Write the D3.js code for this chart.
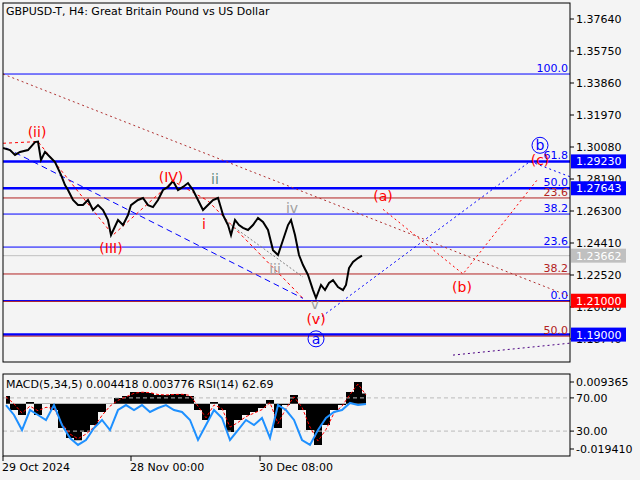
<!DOCTYPE html>
<html><head><meta charset="utf-8">
<script src="https://cdn.jsdelivr.net/npm/d3@7"></script>
<style>body{margin:0;background:#f4f4f4}text{font-family:"DejaVu Sans",sans-serif}</style>
</head><body><svg width="640" height="480"></svg>
<script>
// price path (bar number, close)
const bars = [0,7,12,17,25,32,35,38,42,48,52,58,62,65,70,75,80,85,90,95,100,105,108,115,120,125,128,135,140,145,150,155,160,165,170,175,180,185,190,195,200,205,210,215,218,220,225,228,232,236,240,245,250,255,260,265,270,275,280,285,288,292,296,300,305,310,313,318,322,326,330,335,340,343,346,350,355,359];
const closes = [1.3002,1.2990,1.2961,1.2979,1.2990,1.3037,1.3040,1.2931,1.2979,1.2943,1.2919,1.2843,1.2783,1.2754,1.2695,1.2665,1.2665,1.2695,1.2636,1.2665,1.2636,1.2577,1.2488,1.2577,1.2547,1.2606,1.2665,1.2695,1.2707,1.2665,1.2653,1.2695,1.2754,1.2772,1.2807,1.2754,1.2772,1.2795,1.2754,1.2695,1.2636,1.2665,1.2695,1.2707,1.2648,1.2606,1.2547,1.2488,1.2577,1.2547,1.2530,1.2518,1.2547,1.2589,1.2565,1.2518,1.2399,1.2370,1.2459,1.2547,1.2577,1.2488,1.2370,1.2311,1.2252,1.2163,1.2116,1.2193,1.2163,1.2205,1.2222,1.2181,1.2163,1.2193,1.2293,1.2329,1.2352,1.2366];
const priceTicks = [1.3764,1.3575,1.3386,1.3197,1.3008,1.2819,1.2630,1.2441,1.2252,1.2063,1.1874];
const timeTicks = [[0,"29 Oct 2024"],[128,"28 Nov 00:00"],[257,"30 Dec 08:00"]];
// horizontal levels: price, colour, width, label
const levels = [
  [1.3439,"#0000ff",1,"100.0"],[1.2923,"#0000ff",2.5,"61.8"],[1.27643,"#0000ff",2.5,"50.0"],
  [1.2707,"#b22222",1,"23.6"],[1.2612,"#0000ff",1,"38.2"],[1.2417,"#0000ff",1,"23.6"],
  [1.23662,"#c0c0c0",1,""],[1.2258,"#b22222",1,"38.2"],[1.2100,"#0000ff",1.5,"0.0"],
  [1.2096,"#b22222",1,""],[1.1900,"#0000ff",2.5,""],[1.1891,"#b22222",1,"50.0"]];
const boxes = [[1.2923,"#0000ff","1.29230"],[1.27643,"#0000ff","1.27643"],[1.23662,"#c0c0c0","1.23662"],[1.2100,"#ff0000","1.21000"],[1.1900,"#0000ff","1.19000"]];
// wave lines: [bar, price] points, colour, dash
const waves = [
  [[[0,1.3439],[565,1.2130]],"#b03030","2,3"],
  [[[3,1.3002],[300,1.2114]],"#0000ff","6,4"],
  [[[0,1.3030],[35,1.3040],[110,1.2488],[170,1.2807],[205,1.2690],[300,1.2114]],"#ff0000","3,3"],
  [[[225,1.2560],[300,1.2240]],"#808080","2,2"],
  [[[315,1.1990],[527,1.2923],[568,1.2830]],"#0000ff","2,3"],
  [[[380,1.2640],[460,1.2258],[535,1.2820]],"#ff0000","2,3"],
  [[[450,1.1779],[568,1.1850]],"#4b0082","2,3"]];
const waveLabels = [
  [34,1.3070,"(ii)","#ff0000"],[108,1.2380,"(III)","#ff0000"],[168,1.2800,"(IV)","#ff0000"],
  [212,1.2790,"ii","#5f8f7f"],[201,1.2525,"i","#ff0000"],[272,1.2260,"iii","#a0a0a0"],
  [289,1.2620,"iv","#a0a0a0"],[312,1.2050,"v","#a0a0a0"],[313,1.1965,"(v)","#ff0000"],
  [380,1.2690,"(a)","#ff0000"],[459,1.2150,"(b)","#ff0000"],[537,1.2900,"(c)","#ff0000"]];
const circled = [[313,1.1875,"a"],[537,1.3018,"b"]];
// indicator window
const indBars = [3,11,19,27,35,43,51,59,67,75,83,91,99,107,115,123,131,139,147,155,163,171,179,187,195,203,211,219,227,235,243,251,259,267,275,283,291,299,307,315,323,331,339,347,355,363];
const macd = [0.0034,-0.0027,-0.0048,0.0008,-0.0048,-0.0001,-0.0027,-0.0104,-0.0147,-0.0156,-0.0121,-0.0091,-0.0035,-0.0001,0.0025,0.0034,0.0051,0.0051,0.0046,0.0038,0.0038,0.0042,0.0042,0.0034,-0.0027,-0.0070,0.0008,-0.0027,-0.0121,-0.0070,-0.0048,-0.0035,-0.0018,0.0016,-0.0104,-0.0005,0.0038,-0.0027,-0.0113,-0.0177,-0.0091,-0.0027,-0.0005,0.0051,0.0094,0.0044];
const signal = [0.0030,0.0000,-0.0040,-0.0010,-0.0030,-0.0015,-0.0020,-0.0085,-0.0130,-0.0150,-0.0130,-0.0100,-0.0050,-0.0010,0.0015,0.0030,0.0045,0.0050,0.0048,0.0040,0.0038,0.0040,0.0041,0.0036,-0.0010,-0.0060,-0.0005,-0.0020,-0.0100,-0.0080,-0.0055,-0.0040,-0.0025,0.0005,-0.0085,-0.0020,0.0030,-0.0015,-0.0100,-0.0160,-0.0110,-0.0040,-0.0010,0.0040,0.0085,0.0038];
const rsi = [61.4,49.4,31.3,55.4,49.4,43.4,61.4,37.3,21.7,13.3,19.3,33.7,43.4,31.3,55.4,61.4,55.4,61.4,53.0,57.8,61.4,55.4,53.0,43.4,19.3,37.3,55.4,45.8,19.3,31.3,43.4,37.3,45.8,21.7,61.4,55.4,43.4,19.3,13.3,31.3,45.8,53.0,55.4,63.9,61.4,62.7];

const svg = d3.select("svg");
svg.append("rect").attr("width",640).attr("height",480).attr("fill","#f4f4f4");
const x = d3.scaleLinear().domain([0,567]).range([3,570]);
const y = d3.scaleLinear().domain([1.1874,1.3764]).range([339,19]);
const yM = d3.scaleLinear().domain([-0.01941,0.009365]).range([449,382]);
const yR = d3.scaleLinear().domain([0,100]).range([456,373]);

const main = svg.append("g");
main.append("defs").append("clipPath").attr("id","c1").append("rect").attr("x",3).attr("y",3).attr("width",567).attr("height",359);
const cl = main.append("g").attr("clip-path","url(#c1)");

levels.forEach(l => {
  cl.append("line").attr("x1",3).attr("x2",570).attr("y1",y(l[0])).attr("y2",y(l[0]))
    .attr("stroke",l[1]).attr("stroke-width",l[2]);
  if (l[3]) cl.append("text").attr("x",568).attr("y",y(l[0])-2).attr("text-anchor","end")
    .attr("font-size",11).attr("fill",l[1]=="#b22222"?"#b22222":"#0000ff").text(l[3]);
});
const line = d3.line().x(d=>x(d[0])).y(d=>y(d[1]));
waves.forEach(w => cl.append("path").attr("d",line(w[0])).attr("fill","none")
  .attr("stroke",w[1]).attr("stroke-dasharray",w[2]));
cl.append("path").attr("d",d3.line().x((d,i)=>x(bars[i])).y(d=>y(d))(closes))
  .attr("fill","none").attr("stroke","#000").attr("stroke-width",2);
waveLabels.forEach(t => cl.append("text").attr("x",x(t[0])).attr("y",y(t[1])).attr("text-anchor","middle")
  .attr("font-size",14).attr("fill",t[3]).text(t[2]));
circled.forEach(c => {
  cl.append("circle").attr("cx",x(c[0])).attr("cy",y(c[1])).attr("r",8).attr("fill","none").attr("stroke","#0000ff");
  cl.append("text").attr("x",x(c[0])).attr("y",y(c[1])+5).attr("text-anchor","middle").attr("font-size",14).attr("fill","#0000ff").text(c[2]);
});
main.append("rect").attr("x",3).attr("y",3).attr("width",567).attr("height",359).attr("fill","none").attr("stroke","#000");
main.append("text").attr("x",6).attr("y",15).attr("font-size",11).text("GBPUSD-T, H4:  Great Britain Pound vs US Dollar");
priceTicks.forEach(p => {
  main.append("line").attr("x1",570).attr("x2",574).attr("y1",y(p)).attr("y2",y(p)).attr("stroke","#000");
  main.append("text").attr("x",576).attr("y",y(p)+4).attr("font-size",11).text(p.toFixed(5));
});
boxes.forEach(b => {
  main.append("rect").attr("x",571).attr("y",y(b[0])-7).attr("width",55).attr("height",14).attr("fill",b[1]);
  main.append("text").attr("x",576).attr("y",y(b[0])+4).attr("font-size",11).attr("fill","#fff").text(b[2]);
});

// indicator panel
const ind = svg.append("g");
ind.append("defs").append("clipPath").attr("id","c2").append("rect").attr("x",3).attr("y",374).attr("width",567).attr("height",82);
const ic = ind.append("g").attr("clip-path","url(#c2)");
ic.append("path").attr("d",d3.area().x((d,i)=>x(indBars[i])).y0(yM(0)).y1(d=>yM(d)).curve(d3.curveStep)(macd)).attr("fill","#000");
[70,30].forEach(v => ic.append("line").attr("x1",3).attr("x2",570).attr("y1",yR(v)).attr("y2",yR(v))
  .attr("stroke","#bbb").attr("stroke-dasharray","4,3"));
ic.append("path").attr("d",d3.line().x((d,i)=>x(indBars[i])).y(d=>yM(d))(signal)).attr("fill","none").attr("stroke","#ff0000").attr("stroke-dasharray","3,2");
ic.append("path").attr("d",d3.line().x((d,i)=>x(indBars[i])).y(d=>yR(d))(rsi)).attr("fill","none").attr("stroke","#1e90ff").attr("stroke-width",2);
ind.append("rect").attr("x",3).attr("y",374).attr("width",567).attr("height",82).attr("fill","none").attr("stroke","#000");
ind.append("text").attr("x",6).attr("y",388).attr("font-size",11).text("MACD(5,34,5) 0.004418 0.003776 RSI(14) 62.69");
[[yM(0.009365),"0.009365"],[yR(70),"70.00"],[yR(30),"30.00"],[yM(-0.01941),"-0.019410"]].forEach(t => {
  ind.append("line").attr("x1",570).attr("x2",574).attr("y1",t[0]).attr("y2",t[0]).attr("stroke","#000");
  ind.append("text").attr("x",576).attr("y",t[0]+4).attr("font-size",11).text(t[1]);
});
timeTicks.forEach(t => {
  ind.append("line").attr("x1",x(t[0])).attr("x2",x(t[0])).attr("y1",456).attr("y2",461).attr("stroke","#000");
  ind.append("text").attr("x",x(t[0])-1).attr("y",471).attr("font-size",11).text(t[1]);
});
</script></body></html>
